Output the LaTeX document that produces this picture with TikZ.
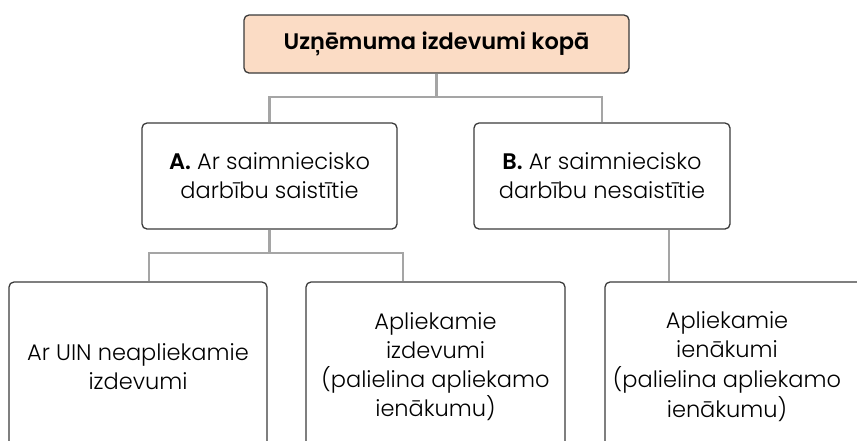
\documentclass[tikz,border=0pt]{standalone}
\usepackage{fontspec}
\setmainfont{Poppins}[UprightFont=* Light, BoldFont=* SemiBold]
\definecolor{peach}{HTML}{FBDCC5}
\definecolor{edge}{HTML}{3A3A3A}
\definecolor{conn}{HTML}{A5A5A5}
\begin{document}
\begin{tikzpicture}[x=1pt,y=-1pt,
  box/.style={draw=edge, line width=1.3pt, rounded corners=5pt, align=center,
    inner sep=0pt, font=\fontsize{22.5}{29}\selectfont},
  link/.style={draw=conn, line width=2.5pt}]
\useasboundingbox (0,0) rectangle (857,440);
\clip (0,0) rectangle (857,440);
\node[box, fill=peach, minimum width=385pt, minimum height=58pt, font=\bfseries\fontsize{22.5}{29}\selectfont] (top) at (436.5,44) {Uzņēmuma izdevumi kopā};
\node[box, minimum width=255pt, minimum height=106pt] (A) at (269.5,176) {\textbf{A.} Ar saimniecisko\\darbību saistītie};
\node[box, minimum width=256pt, minimum height=106pt] (B) at (602,176) {\textbf{B.} Ar saimniecisko\\darbību nesaistītie};
\node[box, minimum width=258pt, minimum height=170pt] (c1) at (138,367) {Ar UIN neapliekamie\\izdevumi};
\node[box, minimum width=259pt, minimum height=170pt] (c2) at (435.5,367) {Apliekamie\\izdevumi\\(palielina apliekamo\\ienākumu)};
\node[box, minimum width=258pt, minimum height=170pt] (c3) at (734,367) {\hspace*{-14pt}\begin{tabular}{@{}c@{}}Apliekamie\\ienākumi\\(palielina apliekamo\\ienākumu)\end{tabular}};
\coordinate (j1) at (436.5,97);
\coordinate (j2) at (269.5,253);
\draw[link] (top.south) -- (j1);
\draw[link] (A.north) |- (j1) -| (B.north);
\draw[link] (A.south) -- (j2);
\draw[link] ([xshift=11pt]c1.north) |- (j2) -| ([xshift=-32.5pt]c2.north);
\draw[link] ([xshift=67pt]B.south) -- ([xshift=-65pt]c3.north);
\end{tikzpicture}
\end{document}
